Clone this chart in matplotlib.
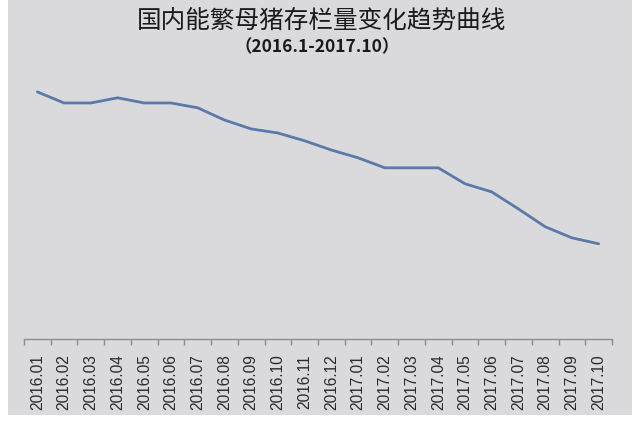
import matplotlib
matplotlib.use("Agg")
import matplotlib.pyplot as plt
from matplotlib.patches import Rectangle
import numpy as np

months = ["2016.01", "2016.02", "2016.03", "2016.04", "2016.05", "2016.06",
          "2016.07", "2016.08", "2016.09", "2016.10", "2016.11", "2016.12",
          "2017.01", "2017.02", "2017.03", "2017.04", "2017.05", "2017.06",
          "2017.07", "2017.08", "2017.09", "2017.10"]
# 能繁母猪存栏量 (estimated, 万头)
sows = [3880, 3850, 3850, 3864, 3850, 3850, 3837, 3804, 3780, 3769, 3748,
        3723, 3702, 3675, 3675, 3675, 3632, 3610, 3564, 3516, 3486, 3470]

title = "国内能繁母猪存栏量变化趋势曲线"
subtitle = "（2016.1-2017.10）"

bg = "#dadadd"
fig = plt.figure(figsize=(6.4, 4.24), dpi=100, facecolor="white")
panel = Rectangle((8 / 640, 1 - 415 / 424), (632 - 8) / 640, 415 / 424,
                  transform=fig.transFigure, facecolor=bg, edgecolor="none", zorder=-10)
fig.add_artist(panel)

ax = fig.add_axes([24 / 640, 1 - 339 / 424, (612 - 24) / 640, (339 - 60) / 424], zorder=1)
ax.set_facecolor("none")
x = np.arange(len(months))
ax.plot(x, sows, color="#5b79a9", linewidth=2.0, solid_capstyle="round")
ax.set_xlim(-0.5, len(months) - 0.5)
ax.set_ylim(3213, 3966)

for s in ["top", "right", "left"]:
    ax.spines[s].set_visible(False)
ax.spines["bottom"].set_color("#8c8c8c")
ax.spines["bottom"].set_linewidth(1.0)
ax.set_yticks([])
ax.set_xticks(x)
ax.set_xticklabels(months, rotation=90, fontsize=11.2, family=["Liberation Sans", "DejaVu Sans"],
                   color="#2a2a2a")
ax.tick_params(axis="x", which="major", length=0, pad=11)
ax.set_xticks(np.arange(len(months) + 1) - 0.5, minor=True)
ax.tick_params(axis="x", which="minor", length=4.5, direction="out", color="#8c8c8c", width=1.0)

fig.text(0.502, 1 - 21 / 424, title, ha="center", va="center", fontsize=17.7,
         family=["Noto Sans CJK SC", "DejaVu Sans"], color="#1a1a1a")
fig.text(0.496, 1 - 47 / 424, subtitle, ha="center", va="center", fontsize=12.5,
         fontweight="bold", family=["Noto Sans CJK SC", "DejaVu Sans"], color="#1a1a1a")

fig.savefig("out.png", dpi=100, facecolor="white")
